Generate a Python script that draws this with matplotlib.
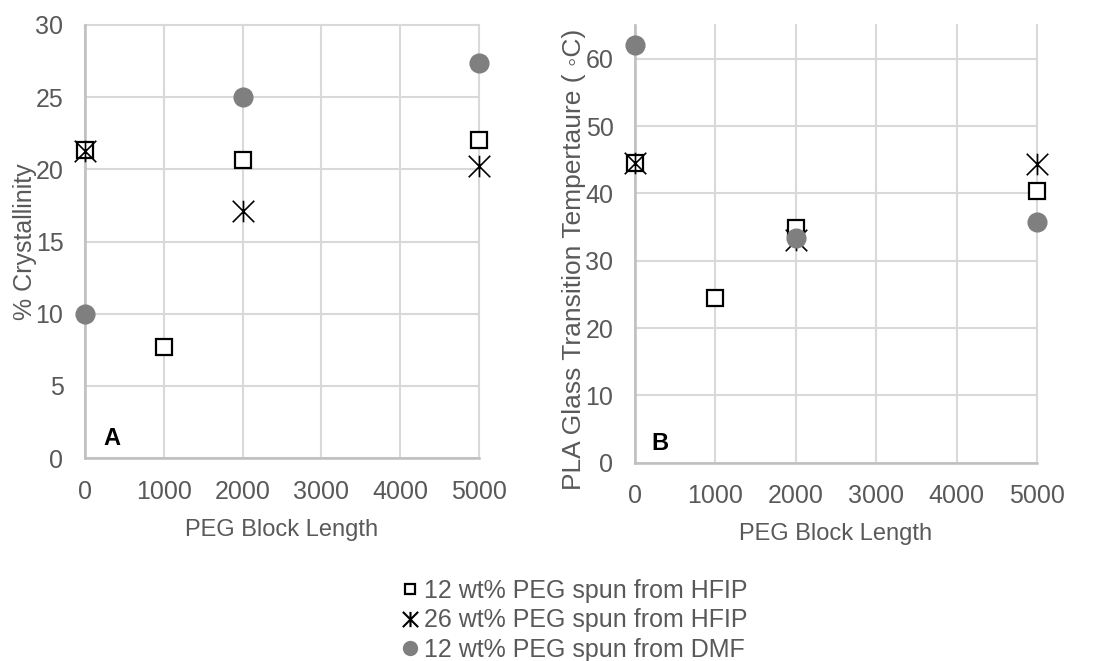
import matplotlib
matplotlib.use("Agg")
import matplotlib.pyplot as plt
from matplotlib.path import Path
from matplotlib.lines import Line2D

plt.rcParams['font.family'] = ['Liberation Sans', 'DejaVu Sans']

# PEG block length (x) values for each series
x_sq = [0, 1000, 2000, 5000]
x_st = [0, 2000, 5000]
x_ci = [0, 2000, 5000]

# Panel A: % crystallinity
a_sq = [21.35, 7.7, 20.65, 22.0]
a_st = [21.3, 17.1, 20.2]
a_ci = [10.0, 25.0, 27.35]

# Panel B: PLA glass transition temperature
b_sq = [44.5, 24.4, 34.9, 40.3]
b_st = [44.5, 33.0, 44.4]
b_ci = [62.0, 33.3, 35.7]

labels = ["12 wt% PEG spun from HFIP",
          "26 wt% PEG spun from HFIP",
          "12 wt% PEG spun from DMF"]

xticks = [0, 1000, 2000, 3000, 4000, 5000]

TXT = '#595959'
GRID = '#d9d9d9'
SPINE = '#bfbfbf'
DOT = '#7f7f7f'
FS = 18

# asterisk-style star: an X plus a vertical stroke
star = Path([(-1, -1), (1, 1), (-1, 1), (1, -1), (0, -1), (0, 1)],
            [Path.MOVETO, Path.LINETO] * 3)

fig = plt.figure(figsize=(10.94, 6.61), dpi=100)
W, H = 1094, 661


def make_axes(l, r, t, b):
    return fig.add_axes([l / W, 1 - b / H, (r - l) / W, (b - t) / H])


axA = make_axes(85, 479, 25, 458)
axB = make_axes(635, 1037, 25, 462.7)


def style(ax, ymax, ystep):
    ax.set_xlim(0, 5000)
    ax.set_ylim(0, ymax)
    ax.set_xticks(xticks)
    ax.set_yticks(list(range(0, int(ymax) + 1, ystep)))
    ax.grid(True, color=GRID, lw=1.5, zorder=0)
    ax.set_axisbelow(True)
    for ln in ax.get_xgridlines() + ax.get_ygridlines():
        ln.set_clip_on(False)
    for s in ['top', 'right']:
        ax.spines[s].set_visible(False)
    for s in ['left', 'bottom']:
        ax.spines[s].set_color(SPINE)
        ax.spines[s].set_linewidth(1.8)
    ax.tick_params(length=0, labelsize=FS, labelcolor=TXT, pad=15.5)


def draw(ax, ysq, yst, yci):
    ax.plot(x_sq, ysq, ls='none', marker='s', ms=11.5, mfc='white',
            mec='black', mew=1.6, zorder=3, clip_on=False)
    ax.plot(x_st, yst, ls='none', marker=star, ms=15.5, mec='black',
            mew=1.2, zorder=4, clip_on=False)
    ax.plot(x_ci, yci, ls='none', marker='o', ms=13.5, mfc=DOT,
            mec=DOT, zorder=5, clip_on=False)


style(axA, 30, 5)
draw(axA, a_sq, a_st, a_ci)
axA.set_xlabel("PEG Block Length", fontsize=17, color=TXT)
axA.xaxis.label.set_va('baseline')
axA.xaxis.set_label_coords(0.5, -0.180)
axA.set_ylabel("% Crystallinity", fontsize=FS, color=TXT)
axA.yaxis.label.set_va('baseline')
axA.yaxis.set_label_coords(-0.1345, 0.5)
axA.text(0.0685, 0.030, "A", transform=axA.transAxes, fontsize=17,
         fontweight='bold', ha='center', va='baseline', color='black')

style(axB, 65, 10)
axB.set_yticks(list(range(0, 61, 10)))
draw(axB, b_sq, b_st, b_ci)
axB.set_xlabel("PEG Block Length", fontsize=17, color=TXT)
axB.xaxis.label.set_va('baseline')
axB.xaxis.set_label_coords(0.5, -0.177)
axB.set_ylabel("PLA Glass Transition Tempertaure ( \u25e6C)", fontsize=19, color=TXT)
axB.yaxis.label.set_va('baseline')
axB.yaxis.set_label_coords(-0.134, 0.465)
axB.text(0.062, 0.029, "B", transform=axB.transAxes, fontsize=17,
         fontweight='bold', ha='center', va='baseline', color='black')

handles = [
    Line2D([], [], ls='none', marker='s', ms=6.5, mfc='white', mec='black', mew=1.6),
    Line2D([], [], ls='none', marker=star, ms=11, mec='black', mew=1.5),
    Line2D([], [], ls='none', marker='o', ms=10, mfc=DOT, mec=DOT),
]
leg = fig.legend(handles, labels, loc='upper left',
                 bbox_to_anchor=(402 / W, 1 - 579 / H),
                 frameon=False, fontsize=FS, handlelength=0.6,
                 handletextpad=0.3, labelspacing=0.22, borderpad=0,
                 borderaxespad=0)
for t in leg.get_texts():
    t.set_color(TXT)

fig.savefig("out.png", dpi=100)
